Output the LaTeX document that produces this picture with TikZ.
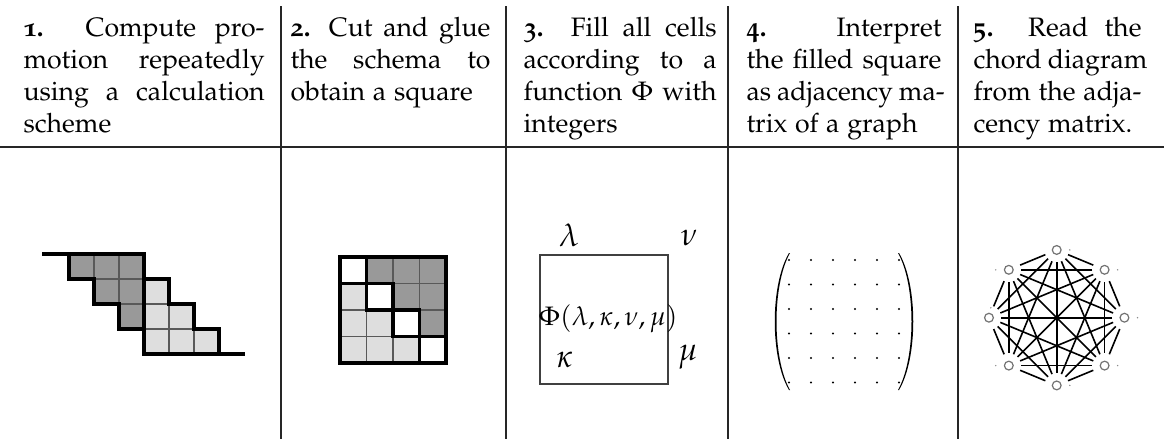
\documentclass[tikz,border=0pt]{standalone}
\usepackage[T1]{fontenc}
\usepackage[osf]{mathpazo}
\tikzset{
 rulel/.style={line width=0.45pt, draw=black!85},
 gridl/.style={line width=0.4pt, draw=black!65},
 thickl/.style={line width=1.15pt, line join=miter, line cap=rect},
 darkcell/.style={fill=black!40, gridl},
 lightcell/.style={fill=black!13, gridl},
 hdr/.style={anchor=base west, inner sep=0pt},
 lab/.style={anchor=base, inner sep=0pt},
 biglab/.style={lab, font=\fontsize{12}{14}\selectfont},
 boxl/.style={line width=0.45pt, draw=black!75},
 vtx/.style={circle, draw=black!55, line width=0.45pt, fill=white, minimum size=3.3pt, inner sep=0pt},
 chord/.style={line width=0.6pt, shorten >=4.6pt, shorten <=4.6pt},
 speck/.style={fill=black!45},
}
\newcommand{\hdrlines}[1]{\vtop{\baselineskip=12pt\lineskiplimit=-100pt\lineskip=0pt #1}}
\newcommand{\jl}[2]{\hbox to #1{#2}}
\begin{document}
\begin{tikzpicture}[x=0.375pt,y=-0.375pt]
\useasboundingbox (0,0) rectangle (1164,439);
% table rules
\draw[rulel] (0,147) -- (1164,147);
\foreach \xx in {281,506,728,958} \draw[rulel] (\xx,6) -- (\xx,439);
% header texts
\node[hdr] (t1) at (23,36) {\hdrlines{\jl{90.4pt}{\textbf{1.} Compute pro-}\jl{90.4pt}{motion repeatedly}\jl{90.4pt}{using a calculation}\jl{90.4pt}{scheme\hfil}}};
\node[hdr] (t2) at (290,36) {\hdrlines{\jl{75pt}{\textbf{2.} Cut and glue}\jl{75pt}{the schema to}\jl{75pt}{obtain a square\hfil}}};
\node[hdr] (t3) at (523,36) {\hdrlines{\jl{72.4pt}{\textbf{3.} Fill all cells}\jl{72.4pt}{according to a}\jl{72.4pt}{function $\Phi$ with}\jl{72.4pt}{integers\hfil}}};
\node[hdr] (t4) at (746,36) {\hdrlines{\jl{73.1pt}{\textbf{4.} Interpret}\jl{73.1pt}{the filled square}\jl{73.1pt}{as adjacency ma-}\jl{73.1pt}{trix of a graph\hfil}}};
\node[hdr] (t5) at (973,36) {\hdrlines{\jl{63pt}{\textbf{5.} Read the}\jl{63pt}{chord diagram}\jl{63pt}{from the adja-}\jl{63pt}{cency matrix.\hfil}}};
% figure 1
\foreach \i/\j in {0/0,1/0,2/0,1/1,2/1,2/2}
  \filldraw[darkcell] ({69+25*\i},{254+25*\j}) rectangle +(25,25);
\foreach \i/\j in {3/1,3/2,4/2,3/3,4/3,5/3}
  \filldraw[lightcell] ({69+25*\i},{254+25*\j}) rectangle +(25,25);
\draw[thickl] (44,254) -- (144,254) -- (144,354) -- (243,354);
\draw[thickl] (69,254) |- (94,279) |- (119,304) |- (144,329);
\draw[thickl] (144,279) -| (169,304) -| (194,329) -| (219,354);
% figure 2
\foreach \i/\j in {1/0,2/0,3/0,2/1,3/1,3/2}
  \filldraw[darkcell] ({340+26.5*\i},{257+26.5*\j}) rectangle +(26.5,26.5);
\foreach \i/\j in {0/1,0/2,1/2,0/3,1/3,2/3}
  \filldraw[lightcell] ({340+26.5*\i},{257+26.5*\j}) rectangle +(26.5,26.5);
\foreach \i in {0,...,3}
  \draw[thickl] ({340+26.5*\i},{257+26.5*\i}) rectangle +(26.5,26.5);
\draw[thickl] (340,257) rectangle (446,363);
% figure 3
\draw[boxl] (540,255) rectangle (668,384);
\node[biglab] (lam) at (569,246) {$\lambda$};
\node[biglab] (nu) at (689,245) {$\nu$};
\node[lab] (phi) at (608,325) {$\Phi(\lambda,\kappa,\nu,\mu)$};
\node[biglab] (kap) at (565,367) {$\kappa$};
\node[biglab] (mu) at (688,360) {$\mu$};
% figure 4
\fill (789,253) .. controls (770,285) and (770,358) .. (789,390) -- (790,390) .. controls (772,358) and (772,285) .. (790,253) -- cycle;
\fill (899,253) .. controls (918,285) and (918,358) .. (899,390) -- (898,390) .. controls (916,358) and (916,285) .. (898,253) -- cycle;
\foreach \i in {0,...,5} \foreach \j in {0,...,5}
  \fill ({789+22*\i},{260+24.5*\j}) circle[radius=0.45pt];
% figure 5
\coordinate (c) at (1056.7,317.7);
\foreach \k in {0,...,7}
  \node[vtx] (v\k) at ([shift={(\k*45:25.4pt)}]c) {};
\foreach \i in {0,...,6} {
  \pgfmathtruncatemacro\s{\i+1}
  \foreach \j in {\s,...,7} \draw[chord] (v\i.center) -- (v\j.center);
}
\foreach \k/\dx/\dy in {0/4.9/0,1/4.9/0,2/4.9/0,3/-4.9/0,4/0.7/3.7,5/-4.9/0,6/4.9/0,7/4.9/0}
  \fill[speck] ([shift={(\dx pt,\dy pt)}]v\k.center) circle[radius=0.3pt];
\end{tikzpicture}
\end{document}
